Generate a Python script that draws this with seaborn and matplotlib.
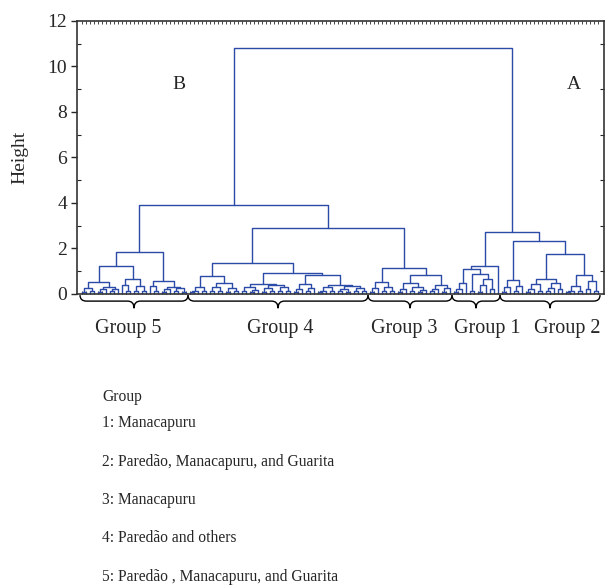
import pandas as pd
import seaborn as sns
import matplotlib.pyplot as plt
import matplotlib.transforms as mtransforms
from matplotlib.path import Path
from matplotlib.patches import PathPatch

# cluster trees: (merge height, left, right), 0 = one sample
group5 = (1.85,
          (1.23,
           (0.54, (0.26, (0.10, 0, 0), (0.12, 0, 0)),
                  (0.30, (0.20, (0.10, 0, 0), 0), (0.22, (0.12, 0, 0), 0))),
           (0.67, (0.40, 0, (0.15, 0, 0)),
                  (0.35, (0.12, 0, 0), (0.15, 0, 0)))),
          (0.57,
           (0.35, 0, (0.12, 0, 0)),
           (0.30, (0.20, (0.10, 0, 0), 0), (0.25, (0.12, 0, 0), (0.10, 0, 0)))))

group4 = (1.35,
          (0.79,
           (0.32, (0.15, (0.10, 0, 0), 0), (0.12, 0, 0)),
           (0.48, (0.30, (0.12, 0, 0), (0.15, 0, 0)), (0.28, (0.10, 0, 0), (0.12, 0, 0)))),
          (0.94,
           (0.45,
            (0.30, (0.12, 0, 0), (0.18, (0.10, 0, 0), 0)),
            (0.38, (0.25, (0.10, 0, 0), (0.12, 0, 0)), (0.30, (0.15, 0, 0), (0.12, 0, 0)))),
           (0.82,
            (0.45, (0.22, (0.10, 0, 0), 0), (0.28, (0.12, 0, 0), 0)),
            (0.40, (0.30, (0.15, (0.10, 0, 0), 0), (0.12, 0, 0)),
                   (0.35, (0.20, (0.12, 0, 0), (0.10, 0, 0)), (0.25, (0.15, 0, 0), (0.12, 0, 0)))))))

group3 = (1.14,
          (0.51, (0.25, (0.10, 0, 0), 0), (0.30, (0.12, 0, 0), (0.15, 0, 0))),
          (0.82,
           (0.50, (0.22, (0.10, 0, 0), 0), (0.30, (0.12, 0, 0), (0.18, (0.10, 0, 0), 0))),
           (0.40, (0.20, (0.12, 0, 0), 0), (0.25, (0.10, 0, 0), 0))))

group1 = (1.25,
          (1.11,
           (0.47, (0.20, (0.10, 0, 0), 0), 0),
           (0.88, (0.12, 0, 0), (0.64, (0.40, (0.10, 0, 0), 0), (0.20, 0, 0)))),
          0)

group2 = (2.33,
          (0.62, (0.30, (0.10, 0, 0), 0), (0.35, (0.12, 0, 0), 0)),
          (1.74,
           (0.67, (0.45, (0.20, (0.10, 0, 0), 0), (0.15, 0, 0)),
                  (0.50, (0.25, (0.12, 0, 0), 0), (0.20, 0, 0))),
           (0.85, (0.35, (0.15, (0.10, 0, 0), 0), (0.12, 0, 0)),
                  (0.55, (0.20, 0, 0), (0.12, 0, 0)))))

h_g4_g3 = 2.90
h_b = 3.90
h_a = 2.72
h_root = 10.8

tree = (h_root,
        (h_b, group5, (h_g4_g3, group4, group3)),
        (h_a, group1, group2))

group_order = [group5, group4, group3, group1, group2]
group_names = ["Group 5", "Group 4", "Group 3", "Group 1", "Group 2"]
# label centres, in leaf positions (labels sit a little off the brace tips)
group_label_x = [11.6, 49.6, 80.5, 101.2, 121.2]

legend_title = "Group"
legend_lines = ["1: Manacapuru",
                "2: Paredão, Manacapuru, and Guarita",
                "3: Manacapuru",
                "4: Paredão and others",
                "5: Paredão , Manacapuru, and Guarita"]

# walk the tree, one U-shaped link per merge
rows = []
counter = [0]


def walk(node):
    if not isinstance(node, tuple):
        x = counter[0]
        counter[0] += 1
        return x, 0.0
    h, a, b = node
    xa, ya = walk(a)
    xb, yb = walk(b)
    k = len(rows)
    for i, (px, py) in enumerate([(xa, ya), (xa, h), (xb, h), (xb, yb)]):
        rows.append({"link": k, "order": i, "x": px, "y": py})
    return (xa + xb) / 2, h


walk(tree)
links = pd.DataFrame(rows)
n_leaves = counter[0]


def count_leaves(node):
    if not isinstance(node, tuple):
        return 1
    return count_leaves(node[1]) + count_leaves(node[2])


sns.set_style("ticks")
plt.rcParams['font.family'] = ['Liberation Serif', 'DejaVu Serif']

fig = plt.figure(figsize=(6.05, 5.88), dpi=100)
ax = fig.add_axes([0.1273, 0.5, 0.8711, 0.4643])

sns.lineplot(data=links, x="x", y="y", units="link", estimator=None, sort=False,
             color="#2B4BA8", linewidth=1.0, ax=ax)

ax.set_xlim(-1.25, n_leaves + 0.5)
ax.set_ylim(0, 12)
ax.set_xlabel("")
ax.set_ylabel("Height", fontsize=14)
ax.yaxis.set_label_coords(-0.093, 0.5)

ax.set_yticks(range(0, 13, 2))
ax.set_yticks(range(1, 13, 2), minor=True)
ax.tick_params(axis="y", which="major", direction="out", length=4, width=1,
               labelsize=14, pad=3)
ax.tick_params(axis="y", which="minor", direction="in", length=3, width=0.8, right=True)
ax.set_xticks(range(n_leaves))
ax.set_xticklabels([])
ax.tick_params(axis="x", which="major", direction="in", length=2, width=0.6, top=True)
for s in ax.spines.values():
    s.set_linewidth(1.2)
    s.set_color("#333333")

ax.text(0.194, 0.769, "B", transform=ax.transAxes, fontsize=14, ha="center", va="center")
ax.text(0.943, 0.769, "A", transform=ax.transAxes, fontsize=14, ha="center", va="center")

# braces under each group
trans = mtransforms.blended_transform_factory(ax.transData, ax.transAxes)
yt, ym, yp = -0.004, -0.026, -0.052
r = 1.6
start = 0
for g, name, lx in zip(group_order, group_names, group_label_x):
    n = count_leaves(g)
    x0, x1 = start - 0.5, start + n - 0.5
    xm = (x0 + x1) / 2
    verts = [(x0, yt), (x0, ym), (x0 + r, ym), (xm - r, ym), (xm, ym), (xm, yp),
             (xm, ym), (xm + r, ym), (x1 - r, ym), (x1, ym), (x1, yt)]
    codes = [Path.MOVETO, Path.CURVE3, Path.CURVE3, Path.LINETO, Path.CURVE3, Path.CURVE3,
             Path.CURVE3, Path.CURVE3, Path.LINETO, Path.CURVE3, Path.CURVE3]
    ax.add_patch(PathPatch(Path(verts, codes), transform=trans, fill=False,
                           edgecolor="black", linewidth=1.0, clip_on=False))
    ax.text(lx, -0.125, name, transform=trans, fontsize=14.5, ha="center", va="center")
    start += n

# legend text block
fig.text(0.169, 1 - 397 / 588, legend_title, fontsize=11.2, va="center")
for py, line in zip([423, 462, 500, 538, 577], legend_lines):
    fig.text(0.169, 1 - py / 588, line, fontsize=11.2, va="center")

plt.savefig("out.png", dpi=100)
